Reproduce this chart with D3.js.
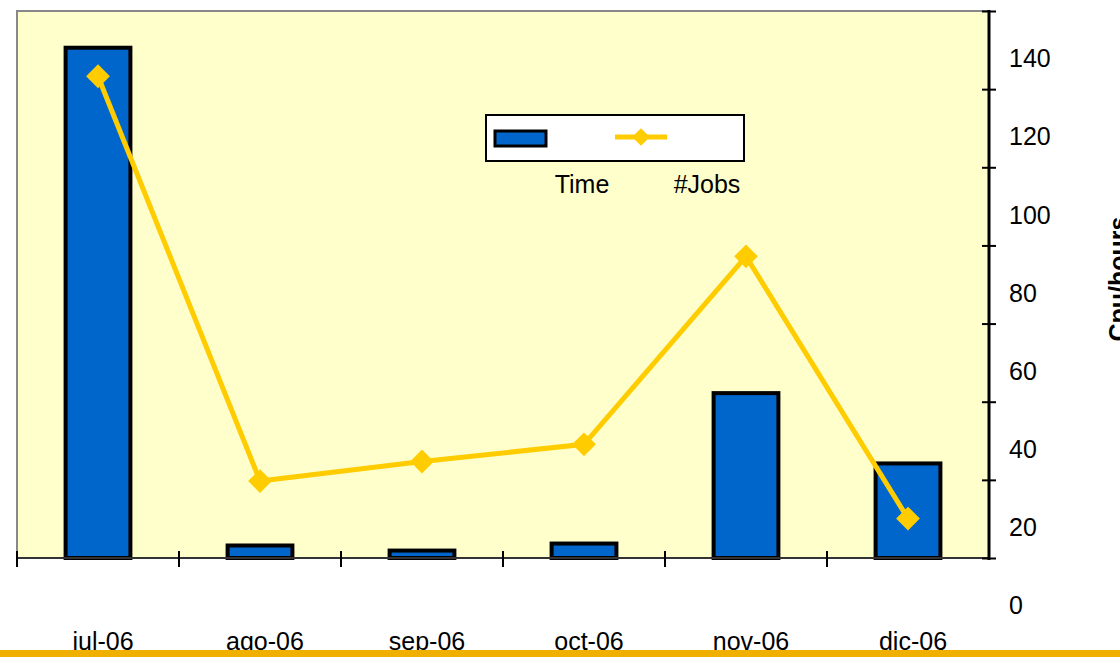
<!DOCTYPE html>
<html>
<head>
<meta charset="utf-8">
<script src="https://cdn.jsdelivr.net/npm/d3@7"></script>
<style>
  body { margin:0; background:#fff; }
  svg { display:block; font-family:"Liberation Sans", Arial, sans-serif; }
</style>
</head>
<body>
<script>
// data
var months = ["jul-06","ago-06","sep-06","oct-06","nov-06","dic-06"];
var timeVals = [130.6, 3.2, 1.9, 3.7, 42.2, 24.2];
var jobsVals = [123.3, 19.7, 24.7, 29.1, 77.2, 10.1];
var yTicks = [0,20,40,60,80,100,120,140];
var seriesNames = ["Time","#Jobs"];

var width = 1120, height = 657;
var plot = {left:17, right:989, top:11, bottom:558};

var svg = d3.select("body").append("svg")
    .attr("width",width)
    .attr("height",height);

var xScale = d3.scaleBand()
    .domain(months)
    .range([plot.left,plot.right])
    .paddingInner(0.6)
    .paddingOuter(0.3);

var xStep = d3.scalePoint()
    .domain(d3.range(months.length+1))
    .range([plot.left,plot.right]);

var yScale = d3.scaleLinear()
    .domain([0,140])
    .range([plot.bottom,plot.top]);

// plot background
svg.append("rect")
    .attr("x",plot.left).attr("y",plot.top)
    .attr("width",plot.right-plot.left)
    .attr("height",plot.bottom-plot.top)
    .attr("fill","#ffffcc");

svg.append("path")
    .attr("d","M"+plot.left+","+plot.bottom+"V"+plot.top+"H"+plot.right)
    .attr("fill","none")
    .attr("stroke","#888")
    .attr("stroke-width",2);

// bars
svg.append("g").selectAll("rect")
    .data(timeVals)
    .enter()
    .append("rect")
    .attr("x",function(d,i){return xScale(months[i]);})
    .attr("y",function(d){return yScale(d);})
    .attr("width",xScale.bandwidth())
    .attr("height",function(d){return yScale(0)-yScale(d);})
    .attr("fill","#0066cc")
    .attr("stroke","#000")
    .attr("stroke-width",4);

// bottom axis
var xAxis = svg.append("g");
xAxis.append("line")
    .attr("x1",plot.left).attr("x2",plot.right)
    .attr("y1",plot.bottom).attr("y2",plot.bottom)
    .attr("stroke","#333").attr("stroke-width",2);
xAxis.selectAll("line.tick")
    .data(d3.range(months.length))
    .enter()
    .append("line")
    .classed("tick",true)
    .attr("x1",function(d){return xStep(d);})
    .attr("x2",function(d){return xStep(d);})
    .attr("y1",plot.bottom-7).attr("y2",plot.bottom+9)
    .attr("stroke","#000").attr("stroke-width",2);
xAxis.selectAll("text")
    .data(months)
    .enter()
    .append("text")
    .attr("x",function(d){return xScale(d)+xScale.bandwidth()/2+5;})
    .attr("y",650)
    .attr("text-anchor","middle")
    .attr("font-size",25)
    .text(function(d){return d;});

// right axis
var yAxis = svg.append("g")
    .attr("transform","translate("+plot.right+",0)")
    .call(d3.axisRight(yScale).tickValues(yTicks).tickSize(7).tickFormat(d3.format("d")));
yAxis.select(".domain")
    .attr("d","M0,"+(plot.top-1)+"V"+(plot.bottom+2))
    .attr("stroke","#000").attr("stroke-width",3);
yAxis.selectAll(".tick line")
    .attr("x1",-7).attr("x2",7)
    .attr("stroke","#000").attr("stroke-width",2);
yAxis.selectAll(".tick text")
    .attr("x",20)
    .attr("dy","0.35em")
    .attr("transform","translate(0,47)")
    .attr("font-size",25)
    .attr("font-family","Liberation Sans, Arial, sans-serif")
    .attr("fill","#000");

svg.append("text")
    .attr("transform","translate(1127,279) rotate(-90)")
    .attr("text-anchor","middle")
    .attr("font-size",25)
    .attr("font-weight","bold")
    .text("Cpu/hours");

// line + markers
var line = d3.line()
    .x(function(d,i){return xScale(months[i])+xScale.bandwidth()/2;})
    .y(function(d){return yScale(d);});

svg.append("path")
    .datum(jobsVals)
    .attr("d",line)
    .attr("fill","none")
    .attr("stroke","#ffcc00")
    .attr("stroke-width",5);

var diamond = d3.symbol().type(d3.symbolDiamond2).size(360);
svg.append("g").selectAll("path")
    .data(jobsVals)
    .enter()
    .append("path")
    .attr("d",diamond)
    .attr("transform",function(d,i){
      return "translate("+(xScale(months[i])+xScale.bandwidth()/2)+","+yScale(d)+")";})
    .attr("fill","#ffcc00");

// legend
var legend = svg.append("g").attr("transform","translate(486,115)");
legend.append("rect")
    .attr("width",258).attr("height",46)
    .attr("fill","#fff")
    .attr("stroke","#000").attr("stroke-width",2);
legend.append("rect")
    .attr("x",9).attr("y",16)
    .attr("width",51).attr("height",15)
    .attr("fill","#0066cc")
    .attr("stroke","#000").attr("stroke-width",3);
legend.append("line")
    .attr("x1",129).attr("x2",181)
    .attr("y1",22).attr("y2",22)
    .attr("stroke","#ffcc00").attr("stroke-width",5);
legend.append("path")
    .attr("d",d3.symbol().type(d3.symbolDiamond2).size(200))
    .attr("transform","translate(155,22)")
    .attr("fill","#ffcc00");
legend.selectAll("text")
    .data(seriesNames)
    .enter()
    .append("text")
    .attr("x",function(d,i){return i==0 ? 96 : 221;})
    .attr("y",78)
    .attr("text-anchor","middle")
    .attr("font-size",25)
    .text(function(d){return d;});

// orange strip at the bottom
svg.append("rect")
    .attr("x",0).attr("y",650)
    .attr("width",width).attr("height",7)
    .attr("fill","#f0b000");
</script>
</body>
</html>
